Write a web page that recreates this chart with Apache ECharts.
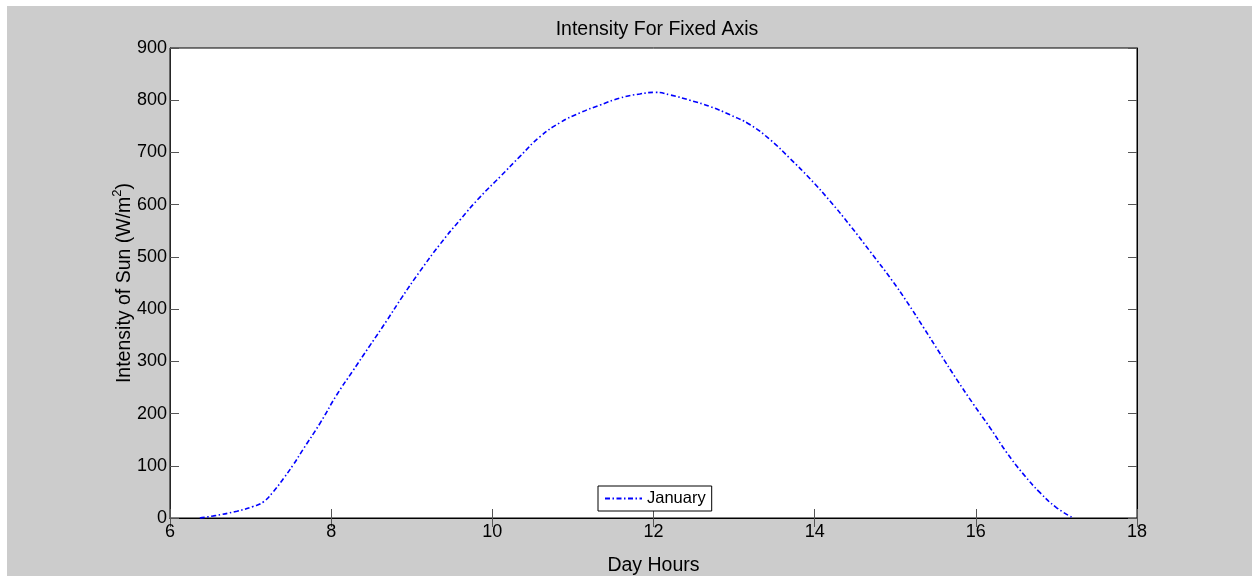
<!DOCTYPE html>
<html>
<head>
<meta charset="utf-8">
<script src="https://cdn.jsdelivr.net/npm/echarts@6/dist/echarts.min.js"></script>
<style>
html,body{margin:0;padding:0;background:#fff;width:1253px;height:577px;overflow:hidden;}
#c{position:absolute;left:7px;top:6px;width:1245px;height:570px;}
</style>
</head>
<body>
<div id="c"></div>
<script>
const hours = [6.37,6.54,6.83,7.03,7.16,7.28,7.41,7.53,7.65,7.86,8.07,8.27,8.48,8.69,8.88,9.10,9.35,9.60,9.85,10.10,10.34,10.59,10.84,11.09,11.34,11.58,11.83,12.02,12.21,12.45,12.70,12.95,13.20,13.45,13.69,13.94,14.19,14.44,14.69,14.96,15.14,15.35,15.56,15.76,15.97,16.18,16.38,16.59,16.80,17.00,17.21];
const january = [0,4,13,22,31,50,76,102,131,181,236,282,330,378,423,472,524,571,615,654,692,730,757,776,791,804,812,815,810,800,788,772,753,724,689,650,607,560,510,455,415,365,314,266,218,172,126,84,48,20,0];
const xTicks = [6,8,10,12,14,16,18];
const yTicks = [0,100,200,300,400,500,600,700,800,900];
const seriesName = 'January';

const chart = echarts.init(document.getElementById('c'));
const font = 'Liberation Sans, Arial, sans-serif';
const tickStyle = {show:true, inside:true, length:9, lineStyle:{color:'#555', width:1}};
chart.setOption({
  backgroundColor:'#cccccc',
  animation:false,
  textStyle:{fontFamily:font},
  title:{text:'Intensity For Fixed Axis', left:645, top:9, textAlign:'center',
    textStyle:{fontFamily:font, fontSize:19.5, fontWeight:'normal', color:'#000'}},
  legend:{data:[seriesName], left:591, top:480, orient:'horizontal',
    backgroundColor:'#fff', borderColor:'#000', borderWidth:1, borderRadius:0,
    padding:[4,6,4,6], itemWidth:37, itemHeight:10, itemGap:4,
    itemStyle:{opacity:0},
    textStyle:{fontFamily:font, fontSize:16.5, color:'#000'}},
  grid:{left:163, right:115, top:42, bottom:58, outerBoundsMode:'none', containLabel:false,
    show:true, backgroundColor:'#fff', borderColor:'#000', borderWidth:1},
  xAxis:[{type:'value', min:xTicks[0], max:xTicks[xTicks.length-1], interval:2, position:'bottom',
    name:'Day Hours', nameLocation:'middle', nameGap:38, nameMoveOverlap:false,
    nameTextStyle:{fontFamily:font, fontSize:19.5, color:'#000'},
    axisLine:{show:true, lineStyle:{color:'#262626'}}, axisTick:tickStyle,
    axisLabel:{fontFamily:font, fontSize:18, color:'#000', margin:5}, splitLine:{show:false}},
   {type:'value', min:xTicks[0], max:xTicks[xTicks.length-1], interval:2, position:'top',
    axisLine:{show:true, lineStyle:{color:'#000'}}, axisTick:tickStyle, axisLabel:{show:false}, splitLine:{show:false}}],
  yAxis:[{type:'value', min:yTicks[0], max:yTicks[yTicks.length-1], interval:100, position:'left',
    name:'Intensity of Sun (W/m{sup|2})', nameLocation:'middle', nameGap:32, nameRotate:90, nameMoveOverlap:false,
    nameTextStyle:{fontFamily:font, fontSize:19.5, color:'#000',
      rich:{sup:{fontFamily:font, fontSize:13, color:'#000', padding:[0,0,14,0]}}},
    axisLine:{show:true, lineStyle:{color:'#262626'}}, axisTick:tickStyle,
    axisLabel:{fontFamily:font, fontSize:18, color:'#000', margin:3}, splitLine:{show:false}},
   {type:'value', min:yTicks[0], max:yTicks[yTicks.length-1], interval:100, position:'right',
    axisLine:{show:true, lineStyle:{color:'#000'}}, axisTick:tickStyle, axisLabel:{show:false}, splitLine:{show:false}}],
  series:[{name:seriesName, type:'line', xAxisIndex:0, yAxisIndex:0, showSymbol:false, symbol:'none', smooth:0.5,
    data:hours.map((h,i)=>[h,january[i]]),
    lineStyle:{color:'#0000ff', width:1.6, type:[5,2.5,1.5,2.5]}, itemStyle:{color:'#0000ff'}}]
});
</script>
</body>
</html>
